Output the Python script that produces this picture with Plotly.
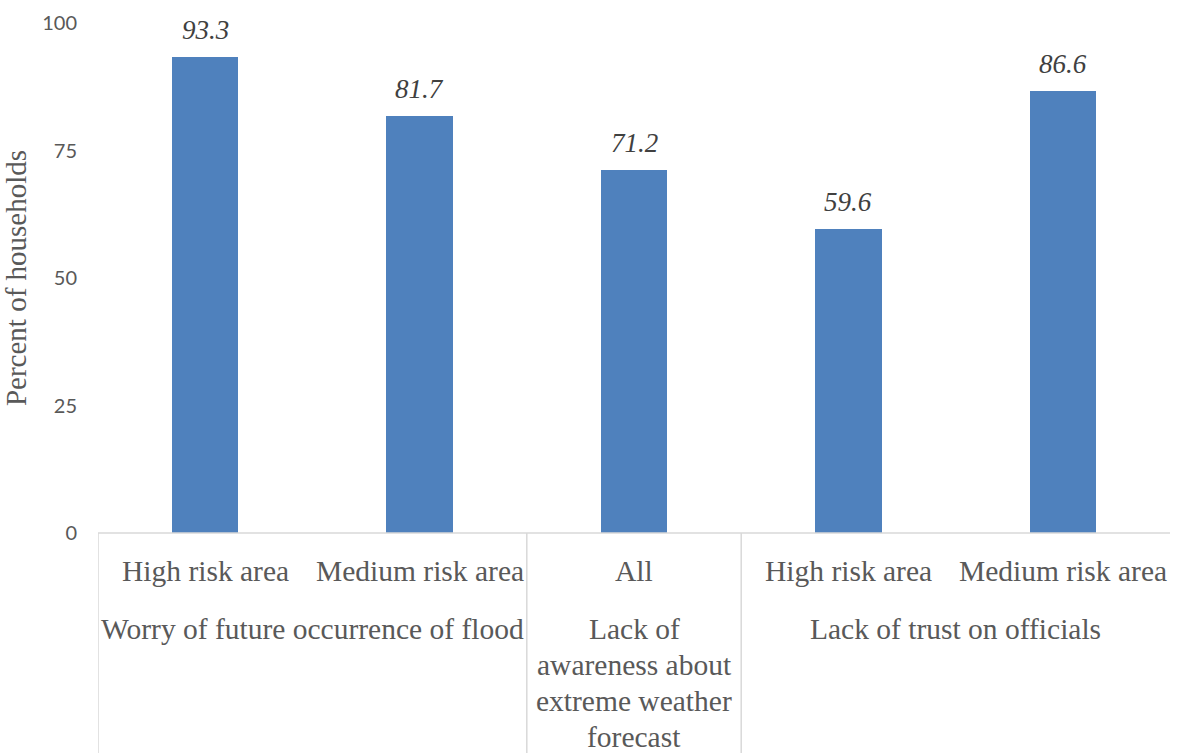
import plotly.graph_objects as go

# Survey results: share of households per concern / area
sub_labels = ["High risk area", "Medium risk area", "All", "High risk area", "Medium risk area"]
values = [93.3, 81.7, 71.2, 59.6, 86.6]
groups = [
    ("Worry of future occurrence of flood", 0, 1),
    ("Lack of<br>awareness about<br>extreme weather<br>forecast", 2, 2),
    ("Lack of trust on officials", 3, 4),
]
y_ticks = [0, 25, 50, 75, 100]

x_pos = list(range(len(values)))
bar_color = "#4F81BD"
serif = "Times New Roman"
text_gray = "#595959"

fig = go.Figure(
    go.Bar(
        x=x_pos,
        y=values,
        marker=dict(color=bar_color, line=dict(width=0)),
        width=0.31,
        hoverinfo="skip",
    )
)

annotations = []
# Value labels above bars
for xi, v in zip(x_pos, values):
    annotations.append(dict(
        x=xi, y=v, xref="x", yref="y", text=f"<i>{v}</i>", showarrow=False,
        yanchor="bottom", yshift=10,
        font=dict(family=serif, size=27, color="#404040"),
    ))
# Category labels (first row)
for xi, lab in zip(x_pos, sub_labels):
    annotations.append(dict(
        x=xi, y=0, xref="x", yref="paper", text=lab, showarrow=False,
        yanchor="middle", yshift=-38,
        font=dict(family=serif, size=29.5, color=text_gray),
    ))
# Group labels (second row), one line per annotation
for name, a, b in groups:
    for k, line in enumerate(name.split("<br>")):
        annotations.append(dict(
            x=(a + b) / 2, y=0, xref="x", yref="paper", text=line, showarrow=False,
            yanchor="middle", yshift=-96 - 36 * k,
            font=dict(family=serif, size=29.5, color=text_gray),
        ))

shapes = []
grid_col = "#D9D9D9"
# Axis baseline
shapes.append(dict(type="line", xref="x", yref="paper", x0=-0.5, x1=4.5, y0=0, y1=0,
                   line=dict(color=grid_col, width=1.5)))
# Group dividers extending below the axis
for xd in [-0.5, 1.5, 2.5]:
    shapes.append(dict(type="line", xref="x", yref="paper", x0=xd, x1=xd, y0=0, y1=-0.44,
                       line=dict(color=grid_col, width=1.5)))

fig.update_layout(
    width=1178, height=753,
    margin=dict(l=98, r=8, t=23, b=220),
    paper_bgcolor="white", plot_bgcolor="white",
    showlegend=False,
    bargap=0,
    annotations=annotations,
    shapes=shapes,
    xaxis=dict(range=[-0.5, 4.5], showticklabels=False, showgrid=False, zeroline=False,
               showline=False, fixedrange=True, automargin=False),
    yaxis=dict(
        range=[0, 100], tickvals=y_ticks, showgrid=False, zeroline=False, showline=False,
        ticks="", ticklabelstandoff=20, automargin=False,
        tickfont=dict(family="Lato", size=20, color=text_gray),
        title=dict(text="Percent of households", standoff=10,
                   font=dict(family=serif, size=29, color=text_gray)),
    ),
)

fig.write_html("out.html")
